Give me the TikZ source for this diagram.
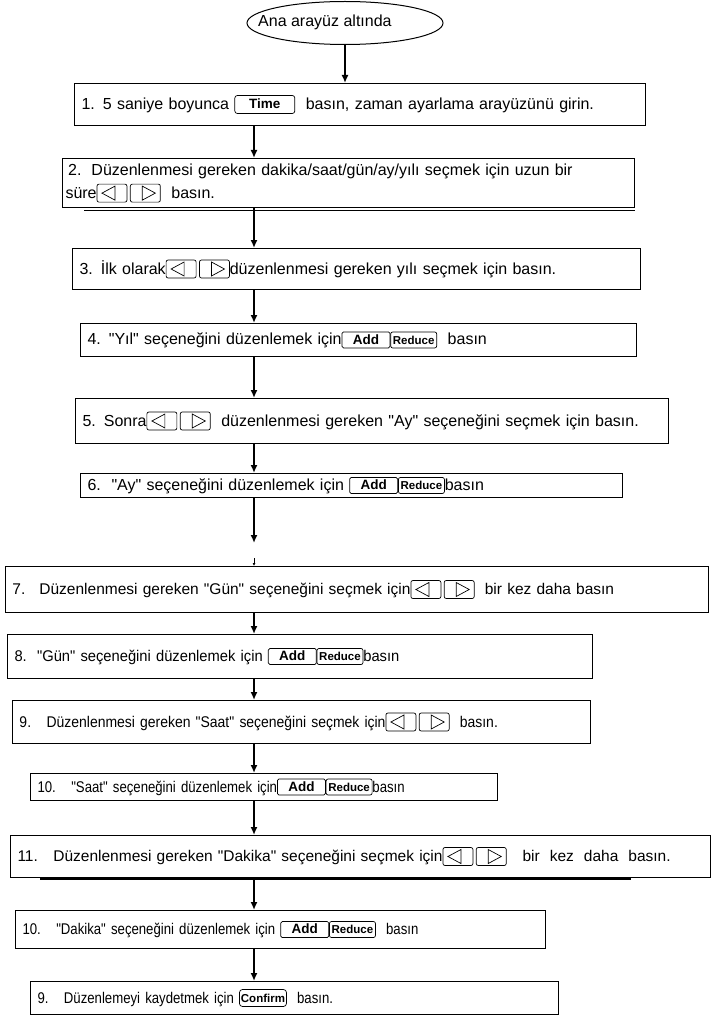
\documentclass[tikz,border=0pt]{standalone}
\usepackage{fontspec}
\setmainfont{Liberation Sans}
\newfontfamily\plainfont{Liberation Sans}
\newfontfamily\narrowA[FakeStretch=0.95]{Liberation Sans}
\newfontfamily\narrowB[FakeStretch=0.9]{Liberation Sans}
\newfontfamily\narrowC[FakeStretch=0.85]{Liberation Sans}
\usetikzlibrary{arrows.meta,shapes.geometric}

\newcommand{\stepfont}{\fontsize{16}{23}\plainfont}
\newcommand{\keyfont}{\fontsize{13.5}{13.5}\plainfont\bfseries}
\newcommand{\smallkeyfont}{\fontsize{11.5}{11.5}\plainfont\bfseries}

% the buttons in the text
\newcommand{\keytime}{\tikz[x=1pt,y=1pt,baseline=0pt,line width=0.7pt]{%
  \draw[rounded corners=2.5pt] (0,-4) rectangle (60,14);
  \pgftext[at=\pgfpoint{30pt}{5.5pt}]{\keyfont Time};}}
\newcommand{\keyl}{\tikz[x=1pt,y=1pt,baseline=0pt,line width=0.7pt]{%
  \draw[rounded corners=2pt] (0,-4) rectangle (30,14);
  \draw (5,5) -- (18,12) -- (18,-2) -- cycle;}}
\newcommand{\keyr}{\tikz[x=1pt,y=1pt,baseline=0pt,line width=0.7pt]{%
  \draw[rounded corners=2pt] (0,-4) rectangle (30,14);
  \draw (25,5) -- (12,12) -- (12,-2) -- cycle;}}
\newcommand{\keyadd}{\tikz[x=1pt,y=1pt,baseline=0pt,line width=0.7pt]{%
  \draw[rounded corners=1.5pt] (0,-3) rectangle (48,13);
  \pgftext[at=\pgfpoint{24pt}{5.5pt}]{\keyfont Add};}}
\newcommand{\keyred}{\tikz[x=1pt,y=1pt,baseline=0pt,line width=0.7pt]{%
  \draw[rounded corners=2pt] (0,-3) rectangle (46,13);
  \pgftext[at=\pgfpoint{23pt}{5pt}]{\smallkeyfont Reduce};}}
\newcommand{\keyok}{\tikz[x=1pt,y=1pt,baseline=0pt,line width=0.7pt]{%
  \draw[rounded corners=3pt] (0,-3) rectangle (47,14);
  \pgftext[at=\pgfpoint{23.5pt}{5.5pt}]{\smallkeyfont Confirm};}}

\tikzset{
  stepbox/.style={draw, line width=1pt, anchor=north west, inner xsep=7pt,
    inner ysep=0pt, align=left, font=\stepfont},
  flowarr/.style={-{Latex[length=8pt,width=7pt]}, line width=1.6pt},
}

\begin{document}
\begin{tikzpicture}[x=1pt,y=-1pt]
  \useasboundingbox (0,0) rectangle (712,1016);
  \node[draw, ellipse, line width=1pt, minimum width=196pt, minimum height=43pt,
    inner sep=0pt] (e0) at (345,23) {};
  \node[anchor=west, font=\stepfont, inner sep=0pt] (e0text) at (258,22) {Ana arayüz altında};
  \coordinate (ax) at (254,0);

  \node[stepbox, minimum height=42pt, text width=557pt] (b1) at (74,83)
    {1. 5 saniye boyunca \keytime\ \ basın, zaman ayarlama arayüzünü girin.};
  \node[stepbox, minimum height=49pt, text width=566pt, inner xsep=3pt] (b2) at (62,158)
    {\,2.\hspace{10pt}Düzenlenmesi gereken dakika/saat/gün/ay/yılı seçmek için uzun bir\\
     süre\keyl\,\keyr\ \ basın.};
  \draw[line width=1pt] ([xshift=22pt,yshift=-3pt]b2.south west) -- ([yshift=-3pt]b2.south east);
  \node[stepbox, minimum height=41pt, text width=554pt] (b3) at (72,248)
    {3. İlk olarak\keyl\,\keyr düzenlenmesi gereken yılı seçmek için basın.};
  \node[stepbox, minimum height=33pt, text width=542pt] (b4) at (80,323)
    {4. "Yıl" seçeneğini düzenlemek için\keyadd\keyred\ \ basın};
  \node[stepbox, minimum height=45pt, text width=579pt] (b5) at (75,398)
    {5. Sonra\keyl\,\keyr\ \ düzenlenmesi gereken "Ay" seçeneğini seçmek için basın.};
  \node[stepbox, minimum height=24pt, text width=528pt] (b6) at (80,473)
    {6.\ \ "Ay" seçeneğini düzenlemek için \keyadd\keyred basın};

  \node[stepbox, minimum height=46pt, text width=689pt, font=\fontsize{15.5}{23}\plainfont] (b7) at (5,566)
    {7.\hspace{14pt}Düzenlenmesi gereken "Gün" seçeneğini seçmek için\keyl\,\keyr\ \ bir kez daha basın};
  \node[stepbox, minimum height=44pt, text width=571pt, font=\fontsize{15.5}{23}\narrowA] (b8) at (7,634)
    {8.\ \ "Gün" seçeneğini düzenlemek için \keyadd\keyred basın};
  \node[stepbox, minimum height=43pt, text width=564pt, font=\fontsize{15.5}{23}\narrowB] (b9) at (12,700)
    {9.\ \ \ Düzenlenmesi gereken "Saat" seçeneğini seçmek için\keyl\,\keyr\ \ basın.};
  \node[stepbox, minimum height=27pt, text width=453pt, font=\fontsize{15.5}{23}\narrowC] (b10) at (30,773)
    {10.\ \ \ "Saat" seçeneğini düzenlemek için\keyadd\keyred basın};
  \node[stepbox, minimum height=42pt, text width=686pt, font=\fontsize{15.5}{23}\plainfont] (b11) at (10,835)
    {11.\ \ \ Düzenlenmesi gereken "Dakika" seçeneğini seçmek için\keyl\,\keyr\hspace{16pt}bir\hspace{10pt}kez\hspace{10pt}daha\hspace{10pt}basın.};
  \draw[line width=1.6pt] ([xshift=30pt,yshift=-1pt]b11.south west) -- ([xshift=-80pt,yshift=-1pt]b11.south east);
  \node[stepbox, minimum height=38pt, text width=516pt, font=\fontsize{15.5}{23}\narrowC] (b12) at (15,910)
    {10.\ \ \ "Dakika" seçeneğini düzenlemek için \keyadd\keyred\ \ basın};
  \node[stepbox, minimum height=33pt, text width=514pt, font=\fontsize{15.5}{23}\narrowC] (b13) at (30,981)
    {9.\ \ \ Düzenlemeyi kaydetmek için \keyok\ \ basın.};

  % connectors
  \draw[flowarr] (e0.south) -- (b1.north -| e0);
  \foreach \a/\b in {b1/b2,b2/b3,b3/b4,b4/b5,b5/b6,b7/b8,b8/b9,b9/b10,b10/b11,b11/b12,b12/b13}
    \draw[flowarr] (\a.south -| ax) -- (\b.north -| ax);
  \coordinate (gap) at (254,543);
  \coordinate (tick) at (254,558);
  \draw[flowarr] (b6.south -| ax) -- (gap);
  \draw[line width=0.8pt, -{Latex[length=3pt,width=3pt]}] (tick) -- (b7.north -| ax);
\end{tikzpicture}
\end{document}
